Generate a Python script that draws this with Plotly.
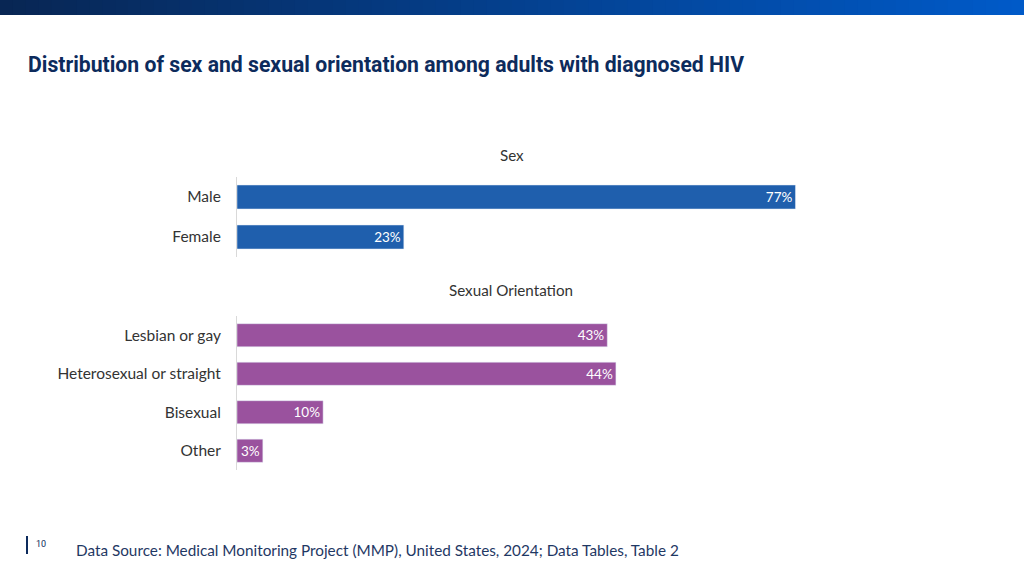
import plotly.graph_objects as go

# data
sex_labels = ["Male", "Female"]
sex_values = [77, 23]
orient_labels = ["Lesbian or gay", "Heterosexual or straight", "Bisexual", "Other"]
orient_values = [43, 44, 10, 3]

title_text = "Distribution of sex and sexual orientation among adults with diagnosed HIV"
source_text = "Data Source: Medical Monitoring Project (MMP), United States, 2024; Data Tables, Table 2"
page_no = "10"

blue = "#1f5fad"
purple = "#9a529e"
navy = "#0d2b5c"
label_font = "Lato, 'Open Sans', sans-serif"

W, H = 1024, 575

fig = go.Figure()

fig.add_trace(go.Bar(
    x=sex_values, y=sex_labels, orientation="h",
    marker=dict(color=blue), width=0.6,
    text=[str(v) + "%" for v in sex_values],
    textposition="inside", insidetextanchor="end",
    textfont=dict(color="white", size=13.5, family=label_font),
    xaxis="x", yaxis="y", hoverinfo="skip",
))
fig.add_trace(go.Bar(
    x=orient_values, y=orient_labels, orientation="h",
    marker=dict(color=purple), width=0.6,
    text=[str(v) + "%" for v in orient_values],
    textposition="inside", insidetextanchor="end",
    textfont=dict(color="white", size=13.5, family=label_font),
    xaxis="x2", yaxis="y2", hoverinfo="skip",
))

x_dom = [237 / W, 1000 / W]
axis_common = dict(showgrid=False, zeroline=False, showticklabels=False, fixedrange=True)
ycommon = dict(showgrid=False, zeroline=False, showline=True, linecolor="#d9d9d9",
               linewidth=1, ticks="", ticklabelstandoff=12, fixedrange=True,
               tickfont=dict(size=15.5, color="#333333", family=label_font))

fig.update_layout(
    width=W, height=H,
    margin=dict(l=0, r=0, t=0, b=0),
    paper_bgcolor="white", plot_bgcolor="white",
    showlegend=False,
    uniformtext=dict(minsize=12, mode="show"),
    xaxis=dict(domain=x_dom, range=[0, 105.2], anchor="y", **axis_common),
    yaxis=dict(domain=[1 - 257 / H, 1 - 177 / H], range=[1.5, -0.5], anchor="x", **ycommon),
    xaxis2=dict(domain=x_dom, range=[0, 88.6], anchor="y2", **axis_common),
    yaxis2=dict(domain=[1 - 470 / H, 1 - 316 / H], range=[3.5, -0.5], anchor="x2", **ycommon),
)

# gradient header band
n = 80
c0 = (8, 38, 84)
c1 = (0, 90, 200)
for i in range(n):
    t = i / (n - 1)
    col = "rgb(%d,%d,%d)" % tuple(round(a + (b - a) * t) for a, b in zip(c0, c1))
    fig.add_shape(type="rect", xref="paper", yref="paper",
                  x0=i / n, x1=(i + 1) / n + 0.002, y0=1 - 15 / H, y1=1,
                  fillcolor=col, line=dict(width=0), layer="below")

# page number bar
fig.add_shape(type="line", xref="paper", yref="paper",
              x0=27 / W, x1=27 / W, y0=1 - 554 / H, y1=1 - 536 / H,
              line=dict(color=navy, width=2))

annos = [
    dict(text="<b>" + title_text + "</b>", x=26 / W, y=1 - 64 / H, xanchor="left", yanchor="middle",
         font=dict(size=21.2, color=navy, family="Roboto, sans-serif")),
    dict(text="Sex", x=512 / W, y=1 - 155 / H, xanchor="center", yanchor="middle",
         font=dict(size=15.2, color="#333333", family=label_font)),
    dict(text="Sexual Orientation", x=511 / W, y=1 - 290 / H, xanchor="center", yanchor="middle",
         font=dict(size=15.2, color="#333333", family=label_font)),
    dict(text=page_no, x=34 / W, y=1 - 544 / H, xanchor="left", yanchor="middle",
         font=dict(size=9, color=navy, family="Roboto, sans-serif")),
    dict(text=source_text, x=74 / W, y=1 - 550 / H, xanchor="left", yanchor="middle",
         font=dict(size=15.3, color="#1f3864", family=label_font)),
]
for a in annos:
    fig.add_annotation(xref="paper", yref="paper", showarrow=False, **a)

fig.write_html("out.html", config={"displayModeBar": False},
               post_script="document.body.style.margin = '0';")
